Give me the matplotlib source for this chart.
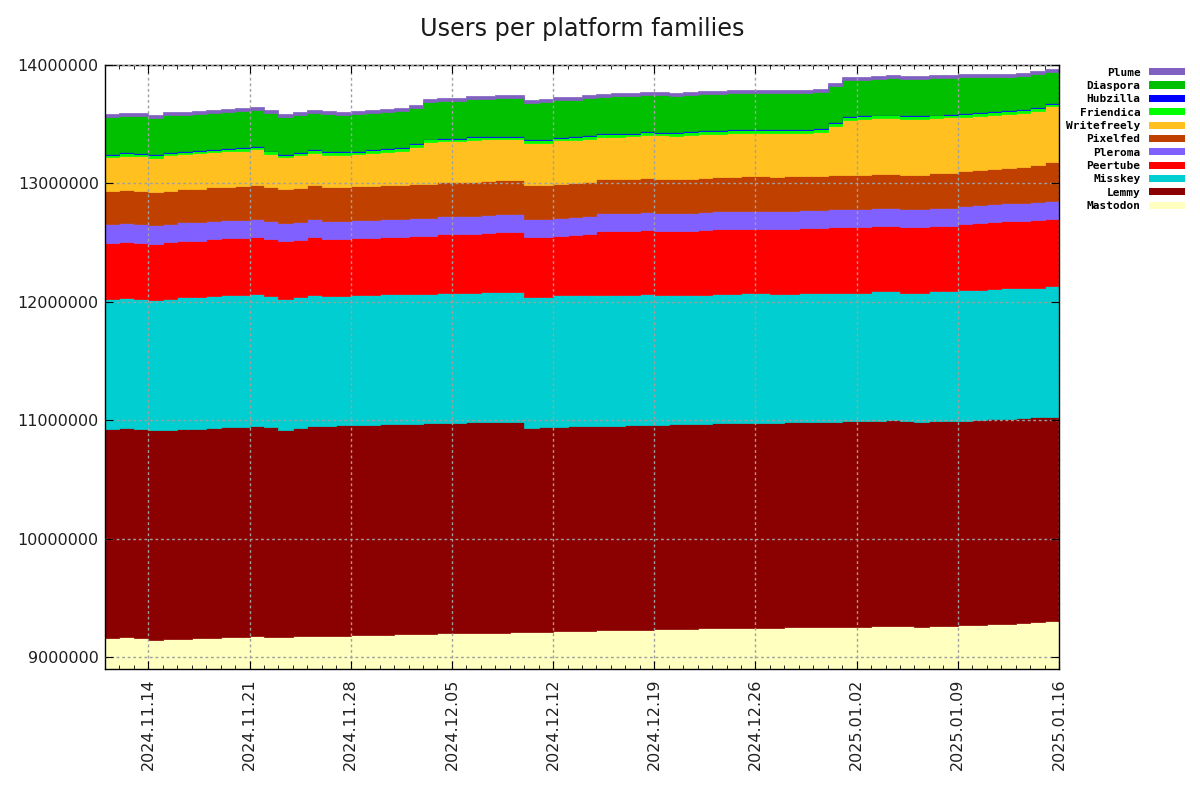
import matplotlib
matplotlib.use("Agg")
import matplotlib.pyplot as plt
import matplotlib.dates as mdates
from matplotlib.patches import Patch
from matplotlib.ticker import MultipleLocator, StrMethodFormatter
import numpy as np
import pandas as pd

days = pd.date_range("2024-11-11", "2025-01-16", freq="D")

# users in thousands, one value per day
mastodon = [9163, 9171, 9165, 9149, 9155, 9155, 9163, 9163, 9171, 9171,
            9180, 9171, 9171, 9180, 9180, 9180, 9180, 9188, 9188, 9188,
            9197, 9197, 9197, 9205, 9205, 9205, 9205, 9205, 9214, 9214,
            9214, 9222, 9222, 9222, 9231, 9231, 9231, 9231, 9239, 9239,
            9239, 9248, 9248, 9248, 9248, 9248, 9248, 9256, 9256, 9256,
            9256, 9256, 9256, 9267, 9267, 9262, 9256, 9262, 9267, 9272,
            9275, 9280, 9284, 9290, 9297, 9303, 9309]
lemmy = [1764, 1764, 1762, 1769, 1763, 1772, 1764, 1772, 1773, 1773,
         1772, 1769, 1747, 1755, 1772, 1772, 1781, 1773, 1773, 1781,
         1772, 1772, 1780, 1772, 1772, 1781, 1781, 1781, 1772, 1721,
         1726, 1722, 1726, 1730, 1721, 1721, 1727, 1730, 1722, 1726,
         1730, 1721, 1725, 1729, 1729, 1729, 1729, 1730, 1730, 1730,
         1730, 1738, 1738, 1727, 1736, 1728, 1730, 1728, 1727, 1722,
         1730, 1731, 1727, 1728, 1727, 1727, 1728]
misskey = [1096, 1097, 1098, 1098, 1108, 1110, 1112, 1112, 1111, 1114,
           1112, 1107, 1110, 1106, 1110, 1094, 1088, 1094, 1094, 1095,
           1095, 1101, 1093, 1102, 1102, 1093, 1101, 1101, 1101, 1110,
           1105, 1110, 1106, 1102, 1110, 1110, 1104, 1109, 1101, 1097,
           1093, 1093, 1097, 1093, 1094, 1094, 1089, 1082, 1085, 1085,
           1093, 1085, 1085, 1094, 1085, 1089, 1093, 1098, 1094, 1102,
           1091, 1094, 1102, 1095, 1097, 1100, 1101]
peertube = [474, 474, 474, 473, 476, 477, 477, 480, 482, 480,
            482, 481, 483, 484, 482, 484, 485, 484, 486, 484,
            486, 485, 486, 491, 491, 495, 495, 500, 500, 499,
            499, 503, 507, 516, 533, 533, 533, 533, 533, 533,
            533, 541, 542, 542, 542, 542, 546, 551, 551, 551,
            551, 551, 555, 555, 555, 555, 555, 555, 555, 559,
            566, 566, 566, 568, 568, 568, 568]
pleroma = [160, 160, 160, 160, 157, 157, 157, 157, 152, 152,
           152, 152, 152, 152, 152, 152, 152, 152, 152, 152,
           152, 152, 152, 152, 152, 152, 152, 152, 152, 152,
           152, 152, 152, 152, 152, 152, 152, 152, 152, 152,
           152, 152, 152, 152, 152, 152, 152, 152, 152, 152,
           152, 152, 152, 152, 152, 152, 152, 152, 152, 152,
           152, 152, 152, 152, 152, 152, 152]
pixelfed = [279, 279, 279, 279, 279, 279, 279, 284, 284, 288,
            288, 288, 288, 288, 288, 288, 288, 288, 288, 288,
            288, 288, 288, 288, 288, 288, 288, 288, 288, 288,
            288, 288, 288, 288, 288, 288, 288, 288, 288, 288,
            288, 288, 288, 288, 297, 297, 288, 288, 288, 288,
            288, 288, 288, 288, 288, 288, 288, 297, 297, 297,
            297, 297, 297, 305, 312, 328, 356]
writefreely = [286, 289, 292, 289, 302, 298, 302, 294, 298, 298,
               302, 282, 271, 275, 275, 272, 268, 269, 278, 279,
               286, 315, 351, 345, 345, 352, 350, 345, 345, 357,
               361, 366, 368, 366, 360, 360, 362, 366, 371, 365,
               374, 374, 365, 373, 368, 368, 376, 366, 363, 375,
               416, 465, 470, 467, 467, 470, 470, 458, 466, 460,
               461, 460, 457, 459, 461, 472, 466]
friendica = [20] * 22 + [24] * 45
hubzilla = [8] * 67
diaspora = [311, 308, 309, 308, 310, 302, 305, 305, 305, 308,
            307, 317, 309, 307, 308, 317, 308, 311, 308, 309,
            308, 300, 309, 310, 310, 313, 312, 318, 318, 307,
            308, 307, 307, 310, 306, 309, 310, 306, 309, 307,
            306, 307, 307, 307, 302, 302, 304, 307, 307, 304,
            307, 305, 296, 298, 307, 304, 304, 307, 299, 301,
            293, 285, 283, 276, 276, 260, 261]
plume = [25] * 67

platforms = ["Mastodon", "Lemmy", "Misskey", "Peertube", "Pleroma", "Pixelfed",
             "Writefreely", "Friendica", "Hubzilla", "Diaspora", "Plume"]
colors = ["#ffffc0", "#8b0000", "#00ced1", "#ff0000", "#8060ff", "#c04000",
          "#ffc020", "#00ff00", "#0000ff", "#00c000", "#8060c0"]
series = [mastodon, lemmy, misskey, peertube, pleroma, pixelfed,
          writefreely, friendica, hubzilla, diaspora, plume]
series = [np.array(s) * 1000 for s in series]

plt.rcParams["font.family"] = "DejaVu Sans"

fig = plt.figure(figsize=(12, 8), dpi=100)
ax = fig.add_axes([0.0875, 0.16375, 0.795, 0.755])

ax.stackplot(days, *series, colors=colors, step="post",
             linewidth=0.5, edgecolor="face")

ax.set_xlim(days[0], days[-1])
ax.set_ylim(8900000, 14000000)

ax.xaxis.set_major_locator(mdates.WeekdayLocator(byweekday=mdates.TH))
ax.xaxis.set_minor_locator(mdates.DayLocator())
ax.xaxis.set_major_formatter(mdates.DateFormatter("%Y.%m.%d"))
ax.yaxis.set_major_locator(MultipleLocator(1000000))
ax.yaxis.set_major_formatter(StrMethodFormatter("{x:.0f}"))

ax.tick_params(axis="both", which="both", direction="in", top=True, right=True,
               labelsize=11.5, colors="black")
ax.tick_params(which="major", length=6)
ax.tick_params(which="minor", length=3)
ax.tick_params(axis="x", labelrotation=90, pad=7)
ax.tick_params(axis="y", pad=4.5)
for lab in ax.get_xticklabels() + ax.get_yticklabels():
    lab.set_color("#202020")

ax.grid(True, which="major", color="#a0a0a0", linestyle=(0, (2, 2)), linewidth=1)
ax.set_axisbelow(False)
for sp in ax.spines.values():
    sp.set_linewidth(1)

ax.set_title("Users per platform families", fontsize=17.2, pad=21, color="#1a1a1a")

handles = [Patch(facecolor=c, edgecolor="none") for c in colors][::-1]
ax.legend(handles, platforms[::-1], loc="upper right",
          bbox_to_anchor=(1191 / 1200, 1 - 62 / 800), bbox_transform=fig.transFigure,
          frameon=False, markerfirst=False, borderpad=0,
          prop={"family": "DejaVu Sans Mono", "weight": "bold", "size": 8},
          handlelength=3.3, handleheight=0.6, handletextpad=0.75, labelspacing=0.3)

fig.savefig("out.png", dpi=100)
